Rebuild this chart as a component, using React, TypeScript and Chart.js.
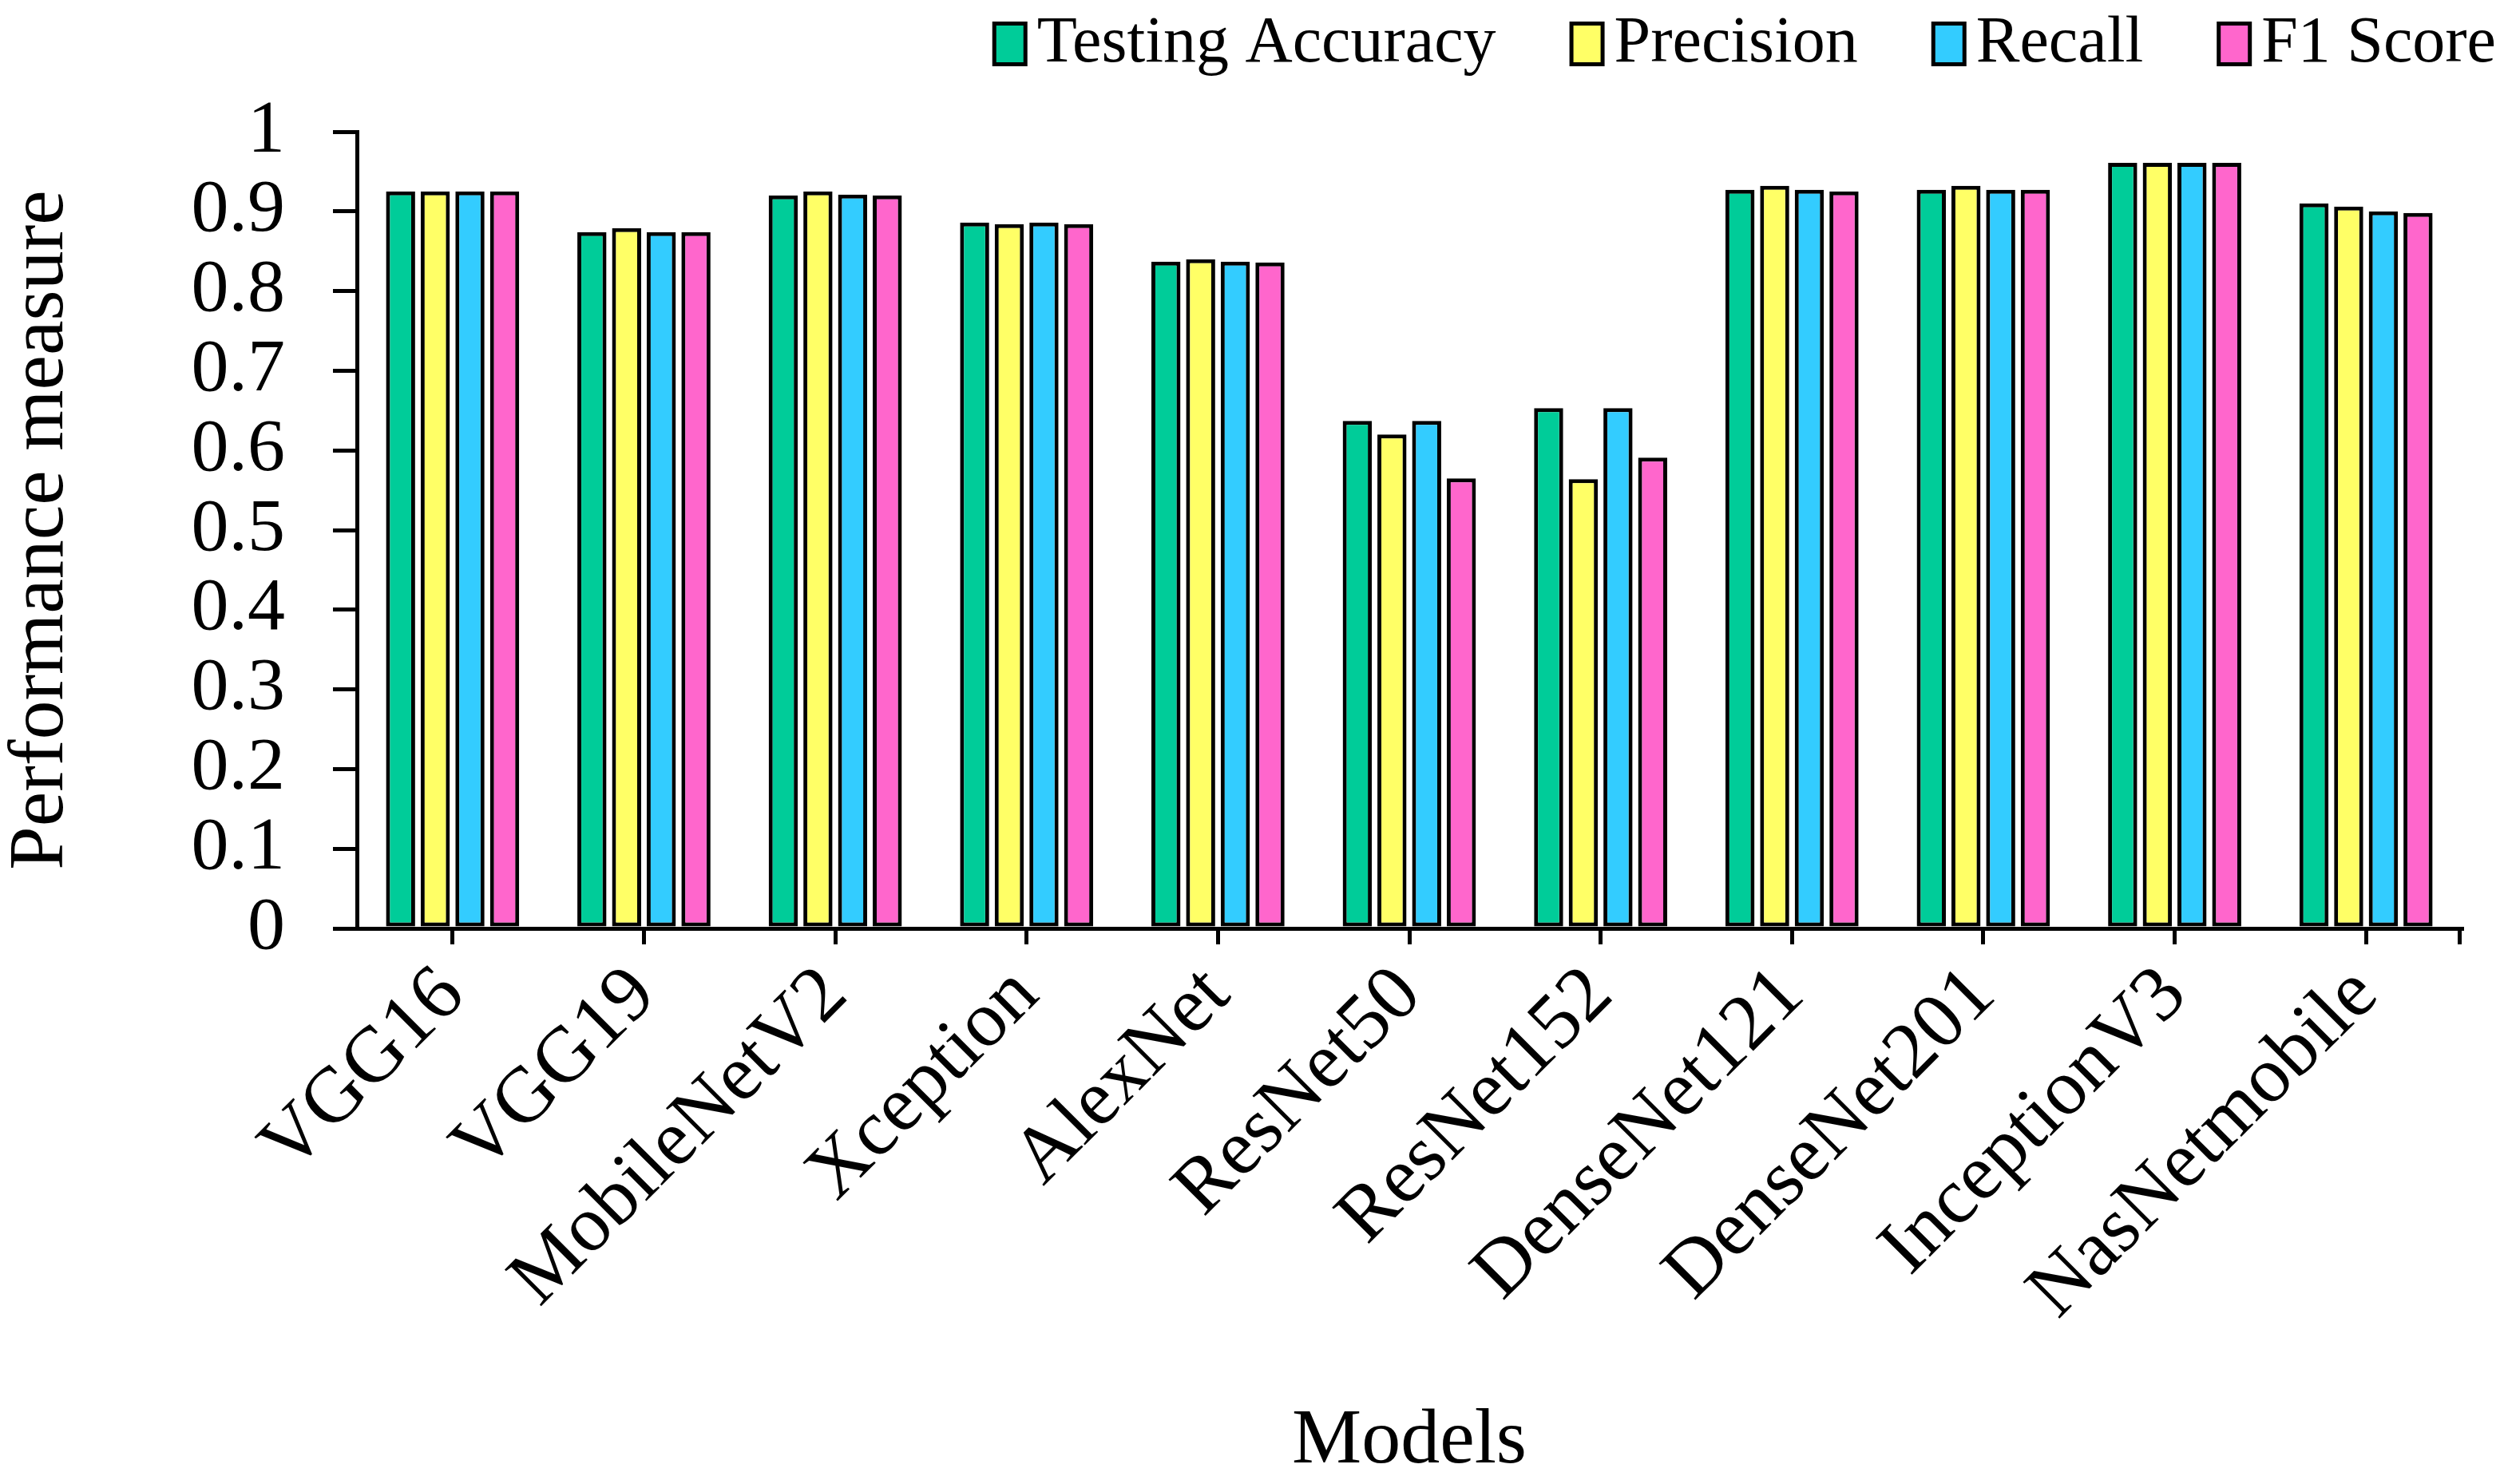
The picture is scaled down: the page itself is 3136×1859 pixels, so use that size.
import { useEffect, useRef } from "react";
import { Chart, registerables } from "chart.js";

Chart.register(...registerables);

const FONT = "'Liberation Serif', 'Times New Roman', serif";

const models = [
  "VGG16",
  "VGG19",
  "MobileNetV2",
  "Xception",
  "AlexNet",
  "ResNet50",
  "ResNet152",
  "DenseNet121",
  "DenseNet201",
  "InceptionV3",
  "NasNetmobile",
];
const testingAccuracy = [0.925, 0.874, 0.92, 0.886, 0.837, 0.637, 0.653, 0.927, 0.927, 0.961, 0.91];
const precision = [0.925, 0.879, 0.925, 0.884, 0.84, 0.62, 0.564, 0.932, 0.932, 0.961, 0.906];
const recall = [0.925, 0.874, 0.921, 0.886, 0.837, 0.637, 0.653, 0.927, 0.927, 0.961, 0.9];
const f1Score = [0.925, 0.874, 0.92, 0.884, 0.836, 0.565, 0.591, 0.925, 0.927, 0.961, 0.898];
const yTickLabels = ["0", "0.1", "0.2", "0.3", "0.4", "0.5", "0.6", "0.7", "0.8", "0.9", "1"];

// legend drawn by hand so it can sit past the plot's right edge like the original
const topLegend = {
  id: "topLegend",
  afterDraw(chart: Chart) {
    const { ctx } = chart;
    const boxW = 44;
    const boxH = 56;
    const textGap = 12;
    const itemGap = 92;
    ctx.save();
    ctx.font = `82px ${FONT}`;
    const items = chart.data.datasets.map((ds) => ({
      text: String(ds.label),
      color: ds.backgroundColor as string,
      w: ctx.measureText(String(ds.label)).width,
    }));
    const total = items.reduce((s, it) => s + boxW + textGap + it.w, 0) + itemGap * (items.length - 1);
    let x = chart.width - 10 - total;
    items.forEach((it) => {
      ctx.fillStyle = "#000";
      ctx.fillRect(x, 27, boxW, boxH);
      ctx.fillStyle = it.color;
      ctx.fillRect(x + 5, 32, boxW - 10, boxH - 10);
      ctx.fillStyle = "#000";
      ctx.textBaseline = "alphabetic";
      ctx.textAlign = "left";
      ctx.fillText(it.text, x + boxW + textGap, 77);
      x += boxW + textGap + it.w + itemGap;
    });
    ctx.restore();
  },
};

// closing tick mark at the right end of the category axis
const endTick = {
  id: "endTick",
  afterDraw(chart: Chart) {
    const { ctx, chartArea } = chart;
    ctx.save();
    ctx.strokeStyle = "#000";
    ctx.lineWidth = 5;
    ctx.beginPath();
    ctx.moveTo(chartArea.right - 2.5, chartArea.bottom);
    ctx.lineTo(chartArea.right - 2.5, chartArea.bottom + 20);
    ctx.stroke();
    ctx.restore();
  },
};

export default function App() {
  const canvasRef = useRef<HTMLCanvasElement | null>(null);

  useEffect(() => {
    if (!canvasRef.current) return;

    const bar = (label: string, data: number[], color: string) => ({
      label,
      data,
      backgroundColor: color,
      borderColor: "#000",
      borderWidth: 5,
      borderSkipped: false as const,
      categoryPercentage: 0.725,
      barPercentage: 0.84,
    });

    const chart = new Chart(canvasRef.current, {
      type: "bar",
      data: {
        labels: models,
        datasets: [
          bar("Testing Accuracy", testingAccuracy, "#00CC99"),
          bar("Precision", precision, "#FFFF66"),
          bar("Recall", recall, "#33CCFF"),
          bar("F1 Score", f1Score, "#FF66CC"),
        ],
      },
      options: {
        responsive: true,
        maintainAspectRatio: false,
        animation: false,
        events: [],
        layout: { padding: { top: 165, right: 53, left: 0, bottom: 0 } },
        plugins: {
          legend: { display: false },
          tooltip: { enabled: false },
        },
        scales: {
          x: {
            afterFit(scale) {
              scale.height = 696;
            },
            grid: {
              offset: false,
              drawOnChartArea: false,
              drawTicks: true,
              tickLength: 20,
              color: "#000",
              lineWidth: 5,
            },
            border: { display: true, color: "#000", width: 5 },
            ticks: {
              autoSkip: false,
              minRotation: 45,
              maxRotation: 45,
              padding: 6,
              color: "#000",
              font: { family: FONT, size: 99 },
            },
            title: {
              display: true,
              text: "Models",
              color: "#000",
              font: { family: FONT, size: 98, lineHeight: 1 },
              padding: { top: 0, bottom: 4 },
            },
          },
          y: {
            min: 0,
            max: 1,
            afterFit(scale) {
              scale.width = 447;
            },
            grid: {
              drawOnChartArea: false,
              drawTicks: true,
              tickLength: 30,
              color: "#000",
              lineWidth: 5,
            },
            border: { display: true, color: "#000", width: 5 },
            ticks: {
              stepSize: 0.1,
              autoSkip: false,
              padding: 60,
              color: "#000",
              font: { family: FONT, size: 94 },
              callback: (_v, i) => yTickLabels[i],
            },
            title: {
              display: true,
              text: "Performance measure",
              color: "#000",
              font: { family: FONT, size: 98, lineHeight: 1 },
              padding: { top: 3, bottom: 0 },
            },
          },
        },
      },
      plugins: [topLegend, endTick],
    });

    return () => chart.destroy();
  }, []);

  return (
    <div style={{ position: "fixed", left: 0, top: 0, width: 3136, height: 1859, background: "#fff" }}>
      <canvas ref={canvasRef} />
    </div>
  );
}
